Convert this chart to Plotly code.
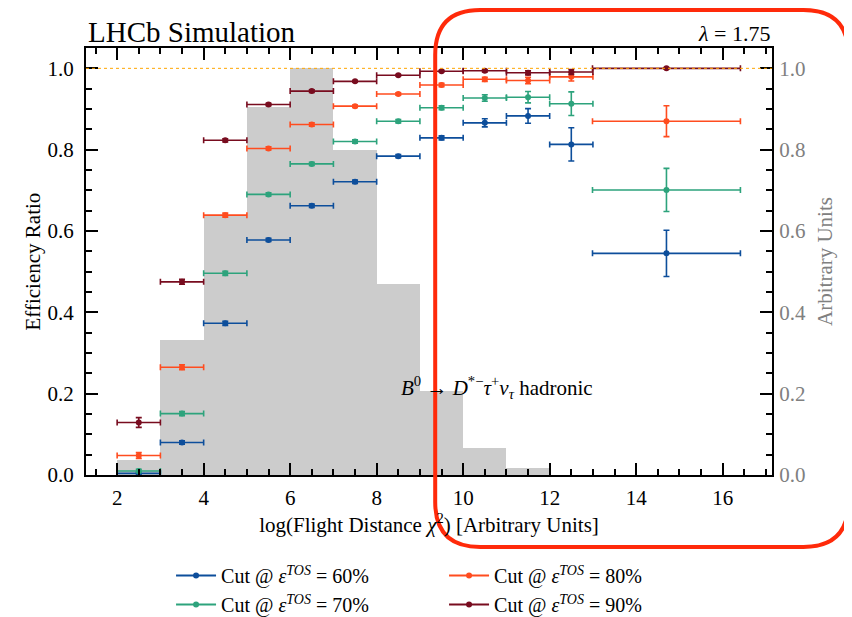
import plotly.graph_objects as go

# ---------------- data ----------------
bin_centers = [2.5, 3.5, 4.5, 5.5, 6.5, 7.5, 8.5, 9.5, 10.5, 11.5, 12.5, 14.7]
bin_halfwidths = [0.5, 0.5, 0.5, 0.5, 0.5, 0.5, 0.5, 0.5, 0.5, 0.5, 0.5, 1.71]

eff_60 = [0.004, 0.080, 0.373, 0.578, 0.662, 0.721, 0.784, 0.829, 0.866, 0.883, 0.813, 0.545]
err_60 = [0.003, 0.004, 0.005, 0.004, 0.004, 0.004, 0.004, 0.005, 0.010, 0.018, 0.041, 0.057]

eff_70 = [0.010, 0.151, 0.496, 0.690, 0.765, 0.820, 0.870, 0.903, 0.927, 0.929, 0.913, 0.701]
err_70 = [0.004, 0.005, 0.005, 0.004, 0.004, 0.004, 0.004, 0.005, 0.008, 0.014, 0.029, 0.053]

eff_80 = [0.048, 0.265, 0.639, 0.803, 0.862, 0.907, 0.937, 0.959, 0.973, 0.970, 0.979, 0.870]
err_80 = [0.007, 0.006, 0.005, 0.004, 0.004, 0.003, 0.003, 0.004, 0.005, 0.008, 0.010, 0.038]

eff_90 = [0.129, 0.475, 0.823, 0.911, 0.944, 0.968, 0.983, 0.993, 0.994, 0.989, 0.991, 1.000]
err_90 = [0.012, 0.006, 0.004, 0.003, 0.003, 0.002, 0.002, 0.002, 0.003, 0.005, 0.006, 0.002]

hist_centers = [2.5, 3.5, 4.5, 5.5, 6.5, 7.5, 8.5, 9.5, 10.5, 11.5]
hist_values = [0.037, 0.332, 0.639, 0.905, 1.000, 0.800, 0.469, 0.207, 0.067, 0.016]

series_names = ["Cut @ <i>ε</i><sup><i>TOS</i></sup> = 60%",
                "Cut @ <i>ε</i><sup><i>TOS</i></sup> = 70%",
                "Cut @ <i>ε</i><sup><i>TOS</i></sup> = 80%",
                "Cut @ <i>ε</i><sup><i>TOS</i></sup> = 90%"]
series_colors = ["#0d4e9b", "#2da37c", "#ff4c1f", "#780c1f"]
x_ticks = [2, 4, 6, 8, 10, 12, 14, 16]
y_ticks = [0.0, 0.2, 0.4, 0.6, 0.8, 1.0]

FONT = "Liberation Serif"

fig = go.Figure()

fig.add_trace(go.Bar(x=hist_centers, y=hist_values, width=1.0,
                     marker=dict(color="#cccccc", line=dict(width=0)),
                     showlegend=False, yaxis="y"))

series = [(eff_60, err_60), (eff_70, err_70), (eff_80, err_80), (eff_90, err_90)]
for (vals, errs), name, col in zip(series, series_names, series_colors):
    fig.add_trace(go.Scatter(
        x=bin_centers, y=vals, mode="markers",
        marker=dict(color=col, size=6),
        error_x=dict(type="data", array=bin_halfwidths, color=col, thickness=1.6, width=3),
        error_y=dict(type="data", array=errs, color=col, thickness=1.6, width=3),
        showlegend=False, name=name))

# legend entries (order gives two columns: 60/70 left, 80/90 right)
for idx in [0, 2, 1, 3]:
    fig.add_trace(go.Scatter(x=[None], y=[None], mode="lines+markers",
                             line=dict(color=series_colors[idx], width=2),
                             marker=dict(color=series_colors[idx], size=6),
                             name=series_names[idx]))

# invisible trace to activate right axis
fig.add_trace(go.Scatter(x=[None], y=[None], yaxis="y2", showlegend=False, hoverinfo="skip"))

# page has an 8px body margin: figure pixel = page pixel - 8
OFF = 8
W, H = 852 - OFF, 617 - OFF
L, T = 86 - OFF, 48 - OFF
R = W - (771.6 - OFF)
B = H - (475 - OFF)
pw, ph = W - L - R, H - T - B

def px2paper(px, py):
    """page pixel -> paper fraction"""
    return (px - OFF - L) / pw, (H - B - (py - OFF)) / ph

axis_common = dict(ticks="inside", ticklen=12, tickwidth=1.5, tickcolor="black",
                   showline=True, linewidth=2, linecolor="black",
                   showgrid=False, zeroline=False, automargin=False,
                   tickfont=dict(family=FONT, size=21, color="black"))

fig.update_layout(
    width=W, height=H, autosize=False,
    margin=dict(l=L, r=R, t=T, b=B, autoexpand=False),
    plot_bgcolor="white", paper_bgcolor="white",
    barmode="overlay", bargap=0,
    font=dict(family=FONT, size=21, color="black"),
    xaxis=dict(range=[1.28, 17.14], tickvals=x_ticks, mirror="ticks",
               minor=dict(dtick=0.5, ticks="inside", ticklen=6, tickwidth=1.5, tickcolor="black"),
               ticklabelstandoff=3,
               title=dict(text="log(Flight Distance <i>χ</i><sup>2</sup>) [Arbitrary Units]",
                          font=dict(family=FONT, size=21), standoff=6),
               **axis_common),
    yaxis=dict(range=[0, 1.05], tickvals=y_ticks, tickformat=".1f",
               minor=dict(dtick=0.05, ticks="inside", ticklen=6, tickwidth=1.5, tickcolor="black"),
               ticklabelstandoff=6,
               **axis_common),
    yaxis2=dict(range=[0, 1.05], tickvals=y_ticks, tickformat=".1f", overlaying="y", side="right",
                ticks="inside", ticklen=12, tickwidth=1.5, tickcolor="black",
                minor=dict(dtick=0.05, ticks="inside", ticklen=6, tickwidth=1.5, tickcolor="black"),
                showline=True, linewidth=2, linecolor="black", showgrid=False, zeroline=False,
                automargin=False, ticklabelstandoff=1,
                tickfont=dict(family=FONT, size=21, color="#808080")),
    legend=dict(orientation="h", x=px2paper(171, 0)[0], y=px2paper(0, 556)[1],
                xanchor="left", yanchor="top",
                entrywidth=218, entrywidthmode="pixels", itemwidth=40,
                font=dict(family=FONT, size=20), bgcolor="rgba(0,0,0,0)", tracegroupgap=0),
)

# dotted reference line at 1.0
fig.add_shape(type="line", xref="paper", yref="y", x0=0, x1=1, y0=1.0, y1=1.0,
              line=dict(color="#ffa500", width=1, dash="dot"))

# axis titles as annotations for exact placement
fig.add_annotation(text="Efficiency Ratio", xref="paper", yref="paper",
                   x=px2paper(33, 0)[0], y=0.5, textangle=-90, xanchor="center", yanchor="middle",
                   showarrow=False, font=dict(family=FONT, size=21, color="black"))
fig.add_annotation(text="Arbitrary Units", xref="paper", yref="paper",
                   x=px2paper(824, 0)[0], y=0.5, textangle=-90, xanchor="center", yanchor="middle",
                   showarrow=False, font=dict(family=FONT, size=21, color="#808080"))

# texts
fig.add_annotation(text="LHCb Simulation", xref="paper", yref="paper",
                   x=0, y=px2paper(0, 32)[1], xanchor="left", yanchor="middle",
                   showarrow=False, font=dict(family=FONT, size=29, color="black"))
fig.add_annotation(text="<i>λ</i> = 1.75", xref="paper", yref="paper",
                   x=1, y=px2paper(0, 34)[1], xanchor="right", yanchor="middle",
                   showarrow=False, font=dict(family=FONT, size=22, color="black"))
fig.add_annotation(text="<i>B</i><sup>0</sup> → <i>D</i><sup>*−</sup><i>τ</i><sup>+</sup><i>ν</i><sub><i>τ</i></sub> hadronic",
                   xref="x", yref="y", x=10.78, y=0.215, xanchor="center", yanchor="middle",
                   showarrow=False, font=dict(family=FONT, size=21, color="black"))

# red rounded highlight box (page pixel positions converted to paper fractions)
bx0, bx1, by0, by1, rad = 435, 848, 10, 547, 45
def P(px, py):
    a, b = px2paper(px, py)
    return f"{a:.5f},{b:.5f}"
path = (f"M {P(bx0 + rad, by0)} L {P(bx1 - rad, by0)} Q {P(bx1, by0)} {P(bx1, by0 + rad)} "
        f"L {P(bx1, by1 - rad)} Q {P(bx1, by1)} {P(bx1 - rad, by1)} "
        f"L {P(bx0 + rad, by1)} Q {P(bx0, by1)} {P(bx0, by1 - rad)} "
        f"L {P(bx0, by0 + rad)} Q {P(bx0, by0)} {P(bx0 + rad, by0)} Z")
fig.add_shape(type="path", xref="paper", yref="paper", path=path,
              line=dict(color="#ff2a0a", width=4), fillcolor="rgba(0,0,0,0)")

fig.write_html("out.html")
